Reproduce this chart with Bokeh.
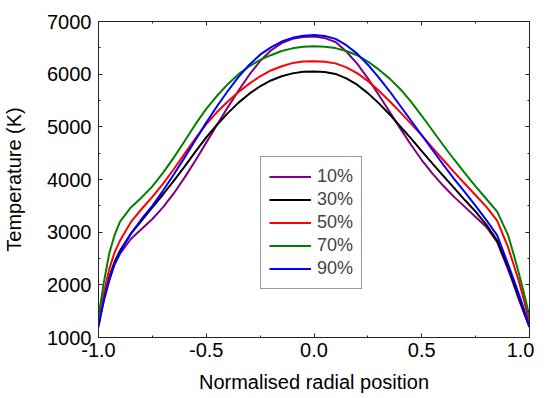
from bokeh.plotting import figure
from bokeh.models import (Range1d, FixedTicker, PrintfTickFormatter, LinearAxis, Legend,
                          LegendItem, CustomJSTickFormatter)
from bokeh.embed import file_html
from bokeh.resources import INLINE

x_pos = [-1, -0.975, -0.95, -0.925, -0.9, -0.85, -0.8, -0.75, -0.7, -0.65, -0.6, -0.55, -0.5,
         -0.45, -0.4, -0.35, -0.3, -0.25, -0.2, -0.15, -0.1, -0.05, 0, 0.05, 0.1, 0.15, 0.2,
         0.25, 0.3, 0.35, 0.4, 0.45, 0.5, 0.55, 0.6, 0.65, 0.7, 0.75, 0.8, 0.85, 0.9, 0.925,
         0.95, 0.975, 1]

t10 = [1250, 1700, 2080, 2390, 2590, 2870, 3060, 3250, 3475, 3740, 4040, 4360, 4700, 5040,
       5370, 5690, 5990, 6250, 6450, 6590, 6670, 6705, 6715, 6685, 6610, 6430, 6200, 5920,
       5610, 5290, 4970, 4660, 4370, 4110, 3880, 3670, 3480, 3290, 3100, 2810, 2300, 2020,
       1730, 1460, 1200]
t30 = [1250, 1760, 2150, 2440, 2650, 2970, 3220, 3470, 3720, 3980, 4250, 4530, 4800, 5040,
       5260, 5460, 5630, 5770, 5880, 5960, 6015, 6045, 6050, 6040, 6005, 5920, 5800, 5640,
       5450, 5240, 5010, 4780, 4540, 4300, 4070, 3840, 3610, 3390, 3140, 2840, 2340, 2060,
       1770, 1480, 1200]
t50 = [1250, 1850, 2300, 2620, 2840, 3190, 3440, 3670, 3920, 4200, 4490, 4780, 5050, 5280,
       5480, 5660, 5820, 5960, 6070, 6150, 6210, 6240, 6245, 6235, 6205, 6130, 6020, 5870,
       5690, 5490, 5280, 5060, 4840, 4600, 4370, 4140, 3920, 3700, 3480, 3220, 2720, 2400,
       2080, 1700, 1290]
t70 = [1400, 2050, 2600, 2950, 3200, 3470, 3660, 3870, 4130, 4420, 4730, 5050, 5340, 5590,
       5810, 6000, 6150, 6270, 6360, 6440, 6490, 6520, 6530, 6520, 6495, 6440, 6360, 6240,
       6090, 5920, 5720, 5480, 5210, 4930, 4650, 4380, 4120, 3870, 3630, 3390, 2950, 2600,
       2230, 1830, 1400]
t90 = [1200, 1720, 2110, 2400, 2620, 2970, 3250, 3500, 3790, 4100, 4420, 4750, 5080, 5390,
       5680, 5950, 6180, 6370, 6510, 6620, 6690, 6730, 6745, 6725, 6670, 6550, 6390, 6180,
       5940, 5680, 5400, 5120, 4840, 4560, 4280, 4010, 3760, 3500, 3230, 2940, 2400, 2120,
       1830, 1530, 1200]

series_labels = ["10%", "30%", "50%", "70%", "90%"]
series_colors = ["#800080", "#000000", "#FF0000", "#008000", "#0000FF"]
series_values = [t10, t30, t50, t70, t90]

x_ticks = [-1.0, -0.5, 0.0, 0.5, 1.0]
x_minor = [-0.75, -0.25, 0.25, 0.75]
y_ticks = [1000, 2000, 3000, 4000, 5000, 6000, 7000]
y_minor = [1500, 2500, 3500, 4500, 5500, 6500]

FONT = "Liberation Sans"

p = figure(frame_width=431, frame_height=316, output_backend="svg", toolbar_location=None,
           x_range=Range1d(-1, 1), y_range=Range1d(1000, 7000))
p.min_border_right = 5
p.grid.visible = False
p.outline_line_color = "#222222"
p.outline_line_width = 1
p.background_fill_color = "white"
p.border_fill_color = "white"

renderers = []
for lab, col, vals in zip(series_labels, series_colors, series_values):
    r = p.line(x_pos, vals, line_color=col, line_width=2)
    renderers.append((lab, r))


def style_axis(ax):
    ax.axis_line_color = "#222222"
    ax.major_tick_line_color = "#222222"
    ax.minor_tick_line_color = "#222222"
    ax.major_tick_in = 4
    ax.major_tick_out = 0
    ax.minor_tick_in = 2
    ax.minor_tick_out = 0
    ax.major_label_text_font = FONT
    ax.major_label_text_font_size = "20px"
    ax.major_label_text_color = "#000000"
    ax.axis_label_text_font = FONT
    ax.axis_label_text_font_size = "20px"
    ax.axis_label_text_font_style = "normal"
    ax.axis_label_text_color = "#000000"


p.xaxis.ticker = FixedTicker(ticks=x_ticks, minor_ticks=x_minor)
p.yaxis.ticker = FixedTicker(ticks=y_ticks, minor_ticks=y_minor)
p.xaxis.formatter = PrintfTickFormatter(format="%.1f")
p.yaxis.formatter = PrintfTickFormatter(format="%d")
p.xaxis.axis_label = "Normalised radial position"
p.yaxis.axis_label = "Temperature (K)"
style_axis(p.xaxis[0])
style_axis(p.yaxis[0])
p.xaxis.major_label_standoff = 5
p.yaxis.major_label_standoff = 7
p.xaxis.axis_label_standoff = 11
p.yaxis.axis_label_standoff = 19

# top axis: blank labels only, sized to give the top margin
top = LinearAxis(ticker=FixedTicker(ticks=x_ticks, minor_ticks=x_minor),
                 formatter=CustomJSTickFormatter(code="return ' ';"))
right = LinearAxis(ticker=FixedTicker(ticks=y_ticks, minor_ticks=y_minor),
                   formatter=CustomJSTickFormatter(code="return '';"))
for ax in (top, right):
    style_axis(ax)
    ax.major_label_standoff = 0
top.major_label_text_font_size = "11px"
top.major_label_standoff = 6
p.add_layout(top, "above")
p.add_layout(right, "right")

legend = Legend(items=[LegendItem(label=l, renderers=[r]) for l, r in renderers],
                location=(162, 48), margin=0, padding=8, spacing=0,
                glyph_width=42, glyph_height=23, label_standoff=6,
                label_text_font=FONT, label_text_font_size="18px",
                border_line_color="#333333", border_line_width=1,
                background_fill_alpha=1.0)
p.add_layout(legend, "center")

open("out.html", "w").write(file_html(p, INLINE))
